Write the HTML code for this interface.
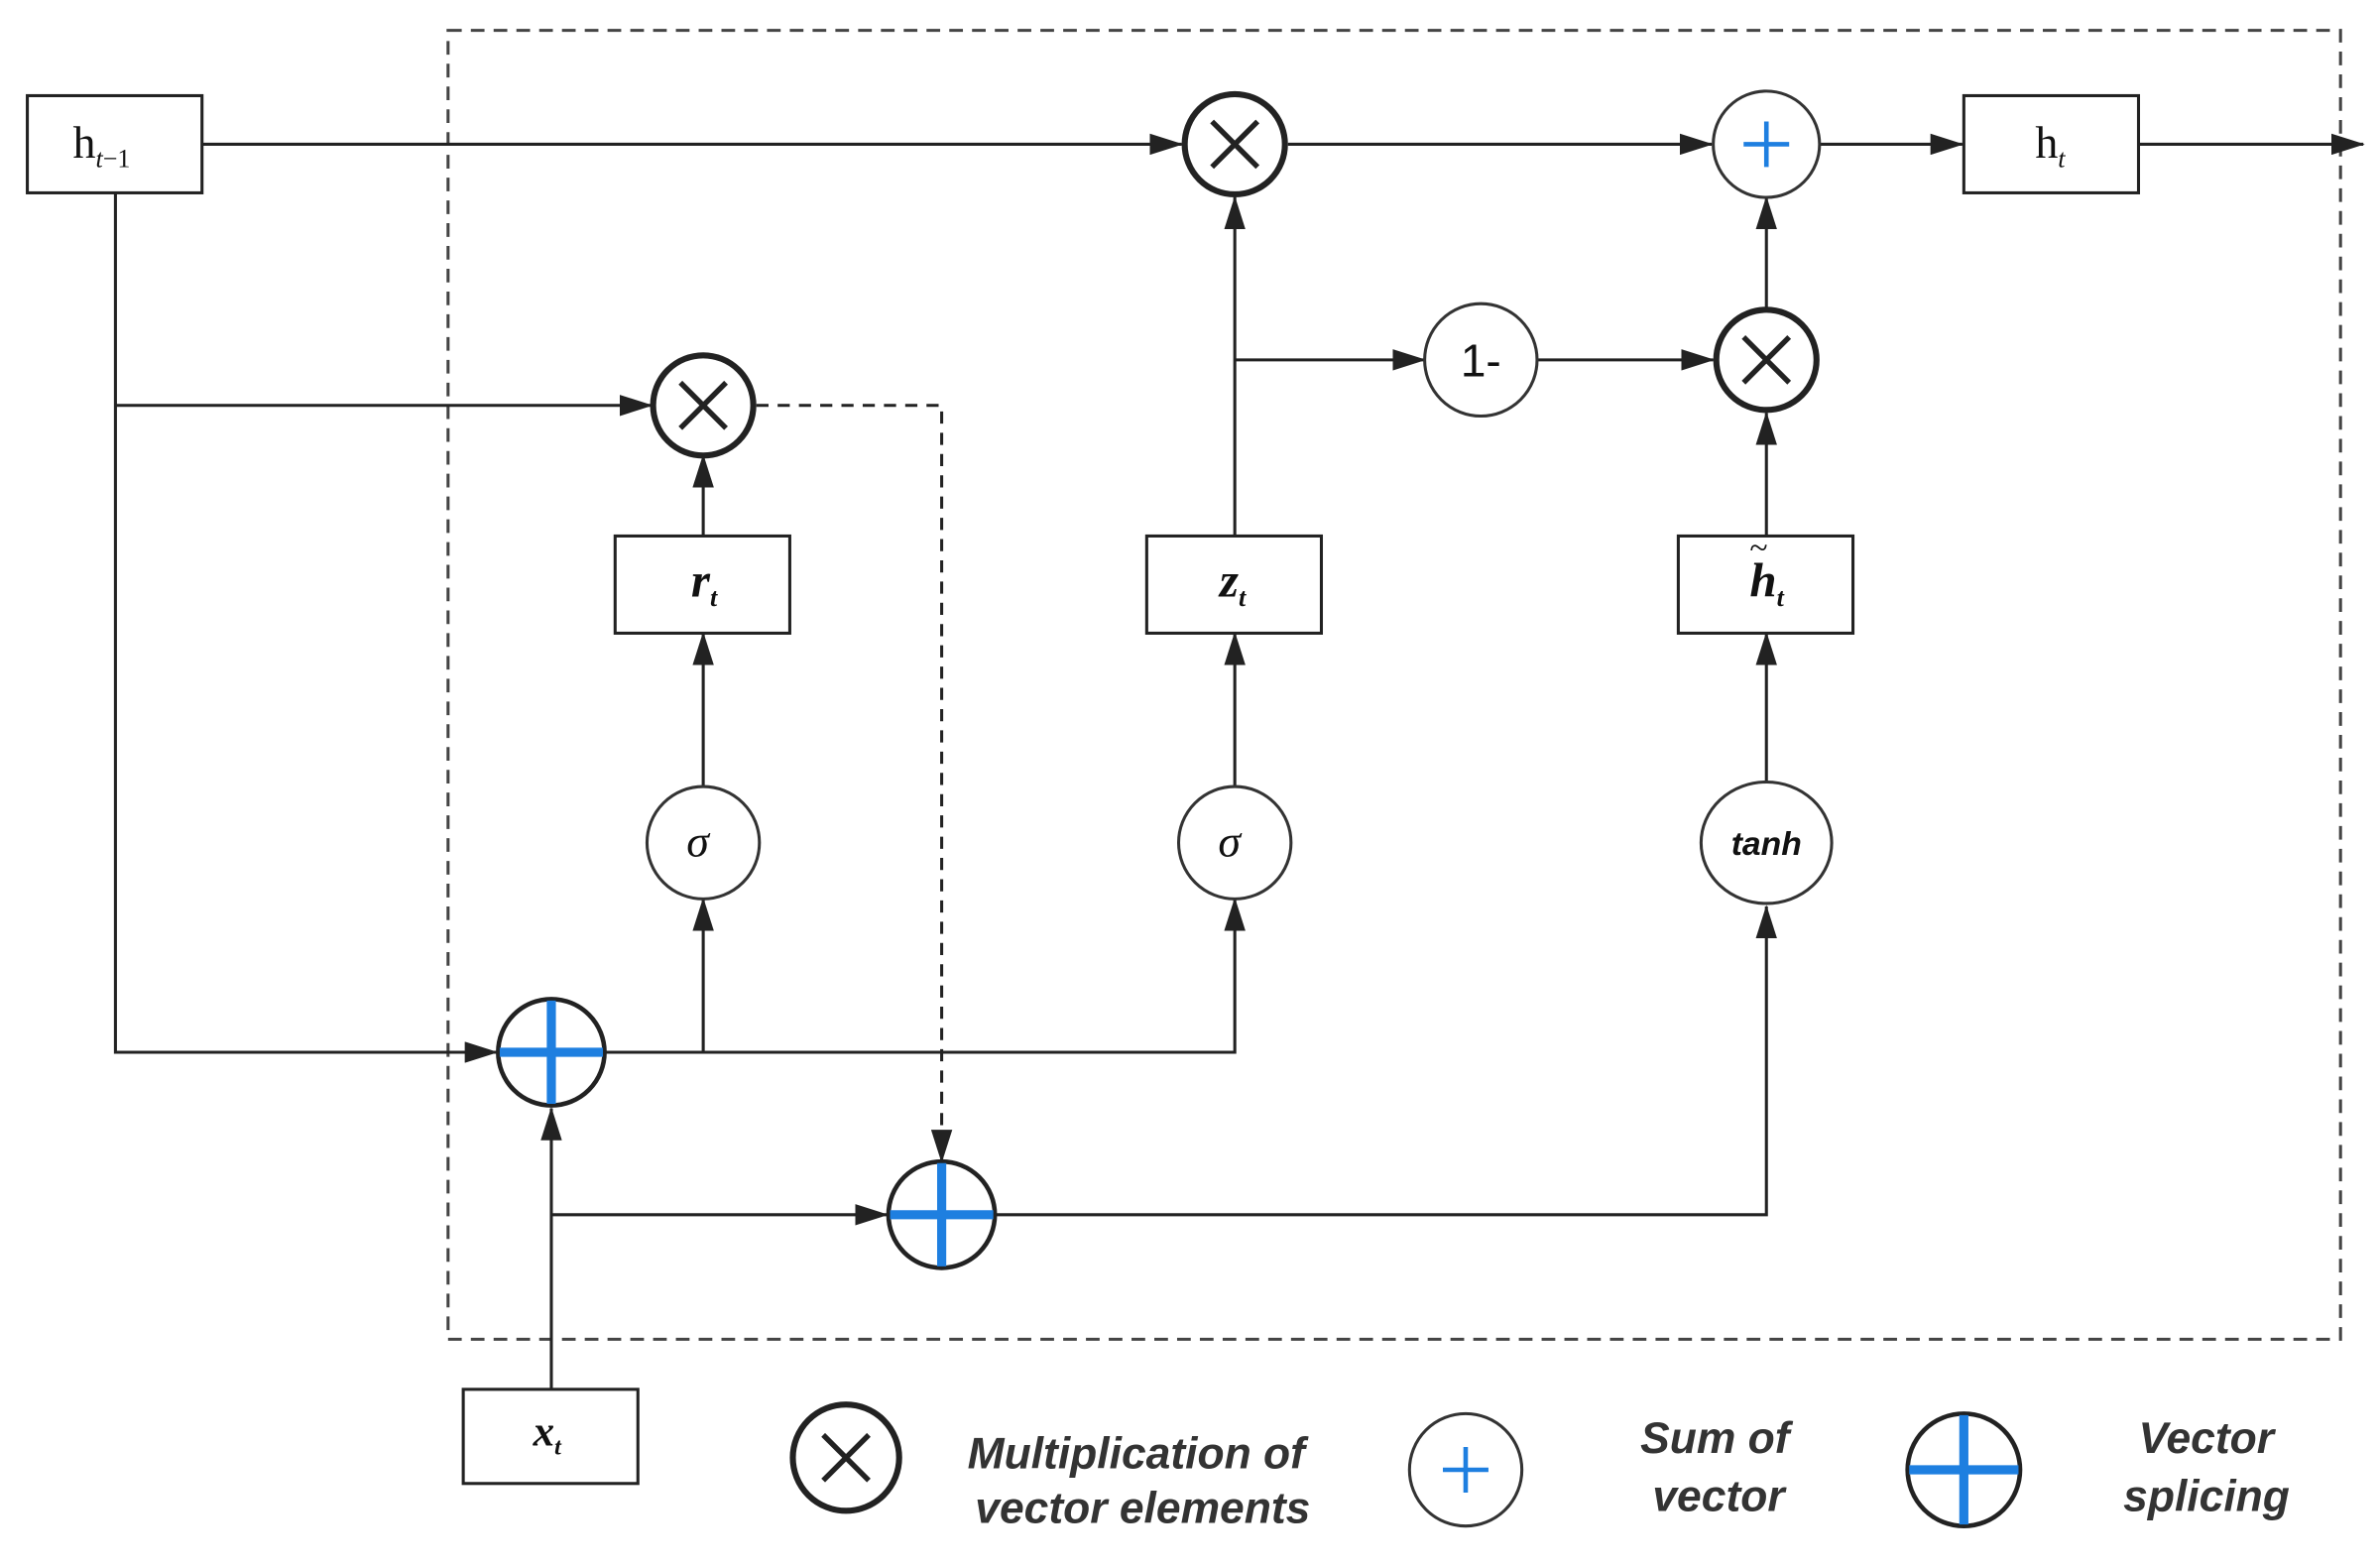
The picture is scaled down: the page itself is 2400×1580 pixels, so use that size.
<!DOCTYPE html>
<html><head><meta charset="utf-8"><style>
html,body{margin:0;padding:0;background:#fff}
svg{display:block}
text{font-family:"Liberation Serif",serif;fill:#111}
.lg{font-family:"Liberation Sans",sans-serif;font-weight:bold;font-style:italic;font-size:29px;fill:#333}
</style></head><body>
<svg width="2400" height="1580" viewBox="0 0 1567 1032" preserveAspectRatio="none" xmlns="http://www.w3.org/2000/svg">
<defs>
<marker id="b" markerWidth="22" markerHeight="14" refX="21" refY="7" orient="auto" markerUnits="userSpaceOnUse"><path d="M0,0 L22,7 L0,14 Z" fill="#222"/></marker></defs>
<g fill="none" stroke="#222" stroke-width="2">
<rect x="295" y="20" width="1246" height="862" stroke-dasharray="9,6" stroke="#444"/>
<rect x="18" y="63" width="115" height="64"/>
<rect x="1293" y="63" width="115" height="64"/>
<rect x="405" y="353" width="115" height="64"/>
<rect x="755" y="353" width="115" height="64"/>
<rect x="1105" y="353" width="115" height="64"/>
<rect x="305" y="915" width="115" height="62"/>
<g marker-end="url(#b)">
<path d="M133,95 H778"/><path d="M848,95 H1127"/><path d="M1198,95 H1292"/><path d="M1408,95 H1556"/>
<path d="M76,267 H429"/><path d="M76,127 V693 H327"/>
<path d="M463,353 V300"/><path d="M463,518 V417"/><path d="M463,693 V592"/>
<path d="M398,693 H813 V592"/><path d="M813,518 V417"/><path d="M813,353 V130"/>
<path d="M813,237 H938"/><path d="M1012,237 H1128"/><path d="M1163,204 V130"/>
<path d="M1163,353 V272"/><path d="M1163,515 V417"/>
<path d="M655,800 H1163 V597"/>
<path d="M363,915 V730"/><path d="M363,800 H584"/>
</g>
<path d="M498,267 H620 V765" stroke-dasharray="8,6" marker-end="url(#b)"/>
<circle cx="813" cy="95" r="33" stroke-width="4"/>
<circle cx="463" cy="267" r="33" stroke-width="4"/>
<circle cx="1163" cy="237" r="33" stroke-width="4"/>
<circle cx="557" cy="960" r="35" stroke-width="4"/>
<g stroke-width="3.5"><path d="M798,80 L828,110 M828,80 L798,110"/><path d="M448,252 L478,282 M478,252 L448,282"/><path d="M1148,222 L1178,252 M1178,222 L1148,252"/><path d="M542,945 L572,975 M572,945 L542,975"/></g>
<circle cx="1163" cy="95" r="35" stroke="#333"/>
<circle cx="965" cy="968" r="37" stroke="#333"/>
<circle cx="975" cy="237" r="37" stroke="#333"/>
<circle cx="463" cy="555" r="37" stroke="#333"/>
<circle cx="813" cy="555" r="37" stroke="#333"/>
<ellipse cx="1163" cy="555" rx="43" ry="40" stroke="#333"/>
<circle cx="363" cy="693" r="35" stroke-width="3"/>
<circle cx="620" cy="800" r="35" stroke-width="3"/>
<circle cx="1293" cy="968" r="37" stroke-width="3"/>
</g>
<g stroke="#1e7fe0" fill="none">
<path d="M1148,95 H1178 M1163,80 V110" stroke-width="3"/>
<path d="M950,968 H980 M965,953 V983" stroke-width="3"/>
<path d="M329,693 H397 M363,659 V727" stroke-width="6"/>
<path d="M586,800 H654 M620,766 V834" stroke-width="6"/>
<path d="M1257,968 H1329 M1293,932 V1004" stroke-width="6"/>
</g>
<text x="48" y="104" font-size="30">h<tspan font-size="17" font-style="italic" dy="6">t</tspan><tspan font-size="17" dy="0">−1</tspan></text>
<text x="1340" y="104" font-size="30">h<tspan font-size="17" font-style="italic" dy="6">t</tspan></text>
<text x="455" y="393" font-size="32" font-style="italic" font-weight="bold">r<tspan font-size="17" dy="6">t</tspan></text>
<text x="803" y="393" font-size="32" font-style="italic" font-weight="bold">z<tspan font-size="17" dy="6">t</tspan></text>
<text x="1152" y="393" font-size="32" font-style="italic" font-weight="bold">h<tspan font-size="17" dy="6">t</tspan></text>
<text x="1152" y="368" font-size="22">~</text>
<text x="351" y="952" font-size="28" font-style="italic" font-weight="bold">x<tspan font-size="16" dy="6">t</tspan></text>
<text x="452" y="564" font-size="30" font-style="italic">σ</text>
<text x="802" y="564" font-size="30" font-style="italic">σ</text>
<text x="1163" y="563" font-size="22" font-style="italic" font-weight="bold" text-anchor="middle" style="font-family:'Liberation Sans',sans-serif">tanh</text>
<text x="975" y="248" font-size="30" text-anchor="middle" style="font-family:'Liberation Sans',sans-serif">1-</text>
<text class="lg" x="637" y="967">Multiplication of</text>
<text class="lg" x="642" y="1003">vector elements</text>
<text class="lg" x="1080" y="957">Sum of</text>
<text class="lg" x="1088" y="995">vector</text>
<text class="lg" x="1408" y="957">Vector</text>
<text class="lg" x="1398" y="995">splicing</text>
</svg>
</body></html>
